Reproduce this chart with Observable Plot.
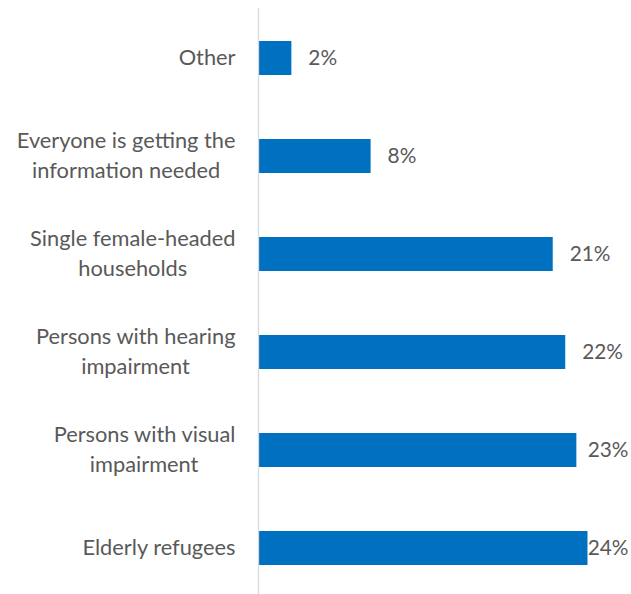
<!DOCTYPE html>
<html><head><meta charset="utf-8">
<script src="https://cdn.jsdelivr.net/npm/d3@7"></script>
<script src="https://cdn.jsdelivr.net/npm/@observablehq/plot@0.6"></script>
<style>body{margin:0;background:#fff;overflow:hidden}</style>
</head><body><div id="chart"></div>
<script>
const categories = [
  "Other",
  "Everyone is getting the\ninformation needed",
  "Single female-headed\nhouseholds",
  "Persons with hearing\nimpairment",
  "Persons with visual\nimpairment",
  "Elderly refugees"
];
const values = [2.4, 8.1, 21.2, 22.1, 22.9, 23.7];
const valueLabels = ["2%", "8%", "21%", "22%", "23%", "24%"];

const W = 631, H = 594;
const ML = 258, MR = 0;
const X_MAX = 26.83;
const FONT = "Lato";
const FS = 21.8;
const FSV = 20.8;
const LH = 30;
const TEXT = "#595959";
const BLUE = "#0070C0";

const ctx = document.createElement("canvas").getContext("2d");
const ppu = (W - ML - MR) / X_MAX;

const data = categories.map((c, i) => ({category: c, value: values[i], label: valueLabels[i]}));

// category label lines, centered within their block, block right-aligned
ctx.font = `${FS}px ${FONT}`;
const lineMarks = [];
categories.forEach(c => {
  const lines = c.split("\n");
  const widths = lines.map(l => ctx.measureText(l).width);
  const blockW = Math.max(...widths);
  lines.forEach((l, j) => {
    const row = {category: c, line: l};
    lineMarks.push(Plot.text([row], {
      x: () => 0, y: d => d.category, text: d => d.line,
      textAnchor: "end",
      dx: -(23 + (blockW - widths[j]) / 2),
      dy: (j - (lines.length - 1) / 2) * LH,
      fill: TEXT, fontSize: FS, fontFamily: FONT
    }));
  });
});

ctx.font = `${FSV}px ${FONT}`;
const chart = Plot.plot({
  width: W, height: H,
  marginLeft: ML, marginRight: MR, marginTop: 8, marginBottom: -4,
  x: {domain: [0, X_MAX], axis: null},
  y: {domain: categories, axis: null, paddingInner: 0.654, paddingOuter: 0.327},
  style: {fontFamily: FONT, background: "#fff"},
  marks: [
    Plot.barX(data, {x: "value", y: "category", fill: BLUE}),
    Plot.ruleX([0], {stroke: "#D9D9D9", strokeWidth: 1.3}),
    ...lineMarks,
    Plot.text(data, {
      x: d => Math.min(d.value + 16.5 / ppu, X_MAX - (ctx.measureText(d.label).width + 3) / ppu),
      y: "category", text: "label", textAnchor: "start",
      fill: TEXT, fontSize: FSV, fontFamily: FONT
    })
  ]
});
document.getElementById("chart").append(chart);
</script>
</body></html>
